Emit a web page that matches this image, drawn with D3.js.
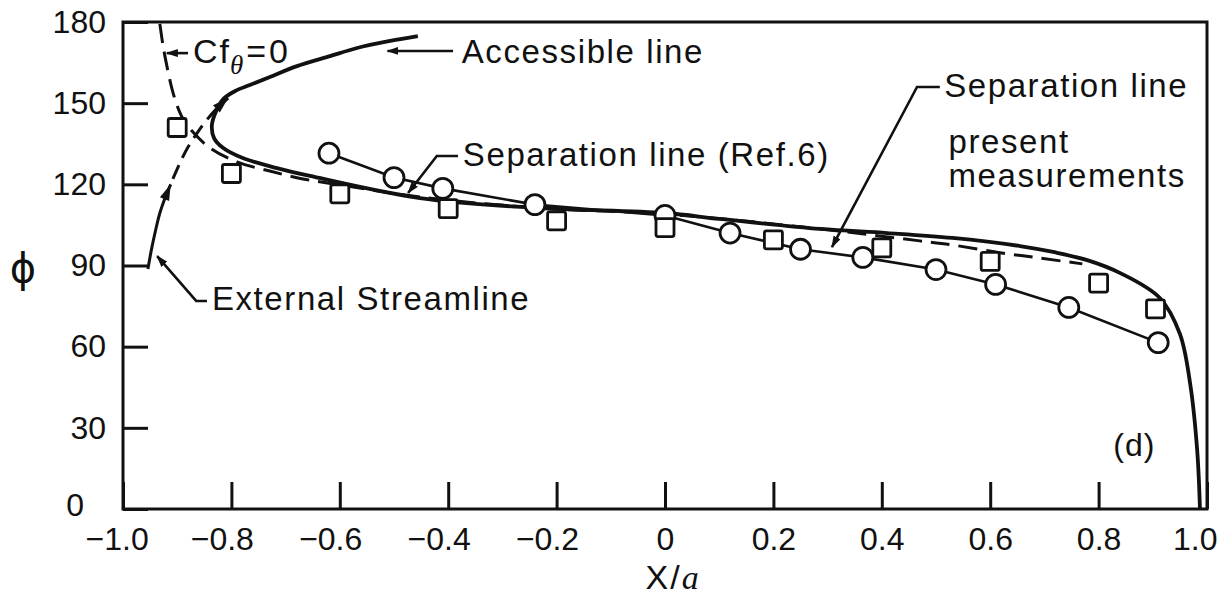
<!DOCTYPE html>
<html>
<head>
<meta charset="utf-8">
<script src="https://cdn.jsdelivr.net/npm/d3@7"></script>
<style>
  html, body { margin: 0; padding: 0; background: #fff; }
  svg { display: block; }
  text { font-family: "Liberation Sans", Arial, sans-serif; fill: #111; }
</style>
</head>
<body>
<svg id="chart" width="1220" height="600"></svg>
<script>
// ---- axis ticks ----
const xTicks = [-1.0, -0.8, -0.6, -0.4, -0.2, 0, 0.2, 0.4, 0.6, 0.8, 1.0];
const xTickLabels = ["\u22121.0", "\u22120.8", "\u22120.6", "\u22120.4", "\u22120.2", "0", "0.2", "0.4", "0.6", "0.8", "1.0"];
const yTicks = [0, 30, 60, 90, 120, 150, 180];
const yTickLabels = ["0", "30", "60", "90", "120", "150", "180"];

// ---- accessible line / separation line (present measurements), solid ----
const solidX = [-0.456, -0.507, -0.568, -0.618, -0.679, -0.729, -0.766, -0.793, -0.815, -0.828,
                -0.836, -0.832, -0.815, -0.779, -0.716, -0.655, -0.452, -0.236, 0.0, 0.101,
                0.286, 0.41, 0.53, 0.655, 0.716, 0.779, 0.84, 0.913, 0.95, 0.969, 0.982, 0.987];
const solidPhi = [174.8, 173.0, 170.4, 167.4, 163.7, 159.7, 156.7, 154.5, 151.5, 147.1,
                  141.9, 137.1, 133.4, 129.7, 126.0, 123.1, 114.9, 111.3, 109.4, 107.2,
                  103.5, 102.0, 100.2, 97.2, 95.0, 92.0, 87.2, 78.0, 64.7, 46.2, 21.4, 0];

// ---- Cf_theta = 0 curve, dashed ----
const cfZeroX = [-0.932, -0.926, -0.919, -0.910, -0.900, -0.889, -0.871, -0.839, -0.790, -0.729,
                 -0.668, -0.600, -0.452, -0.236, 0.0, 0.25, 0.47, 0.53, 0.615, 0.69, 0.77];
const cfZeroPhi = [179.3, 171.1, 163.7, 155.6, 149.0, 144.1, 139.3, 133.4, 128.3, 124.9,
                   122.0, 119.8, 115.3, 111.3, 109.0, 104.3, 99.1, 97.6, 94.8, 92.8, 90.6];

// ---- external streamline (solid start, dashed continuation) ----
const streamSolidX = [-0.954, -0.948, -0.941, -0.932, -0.921, -0.912];
const streamSolidPhi = [88.7, 95.4, 102.0, 109.4, 115.7, 120.0];
const streamDashX = [-0.908, -0.895, -0.880, -0.863, -0.847, -0.828, -0.806];
const streamDashPhi = [122.0, 127.9, 133.8, 139.0, 143.4, 147.8, 151.9];

// ---- separation line (Ref. 6), circles ----
const refX = [-0.62, -0.50, -0.41, -0.24, 0.0, 0.12, 0.25, 0.365, 0.50, 0.61, 0.745, 0.91];
const refPhi = [131.5, 122.5, 118.5, 112.5, 108.5, 102, 96, 93, 88.5, 83, 74.5, 61.5];

// ---- present measurements, squares ----
const sqX = [-0.90, -0.80, -0.60, -0.40, -0.20, 0.0, 0.20, 0.40, 0.60, 0.80, 0.905];
const sqPhi = [141, 124, 116.5, 111, 106.5, 104, 99.5, 96.5, 91.5, 83.5, 74];

// ---- layout ----
const svg = d3.select("#chart");
const plotL = 123, plotR = 1207, plotT = 22, plotB = 509;
const x = d3.scaleLinear().domain([-1, 1]).range([plotL, plotR]);
const y = d3.scaleLinear().domain([0, 180]).range([plotB, plotT]);
const ink = "#111";

const defs = svg.append("defs");
defs.append("marker")
  .attr("id", "head")
  .attr("viewBox", "0 0 12 8")
  .attr("refX", 11).attr("refY", 4)
  .attr("markerWidth", 12).attr("markerHeight", 8)
  .attr("markerUnits", "userSpaceOnUse")
  .attr("orient", "auto")
  .append("path").attr("d", "M0,0 L12,4 L0,8 Z").attr("fill", ink);

// frame
svg.append("rect")
  .attr("x", plotL).attr("y", plotT)
  .attr("width", plotR - plotL).attr("height", plotB - plotT)
  .attr("fill", "none").attr("stroke", ink).attr("stroke-width", 3);

// axes with inward ticks
const xAxis = d3.axisBottom(x)
  .tickValues(xTicks)
  .tickFormat((d, i) => xTickLabels[i])
  .tickSizeInner(-27).tickSizeOuter(0).tickPadding(18);
const gx = svg.append("g").attr("transform", `translate(0,${plotB})`).call(xAxis);
gx.select(".domain").remove();
gx.selectAll("line").attr("stroke", ink).attr("stroke-width", 3);
gx.selectAll("text")
  .style("font-family", '"Liberation Sans", Arial, sans-serif')
  .style("font-size", "32px").attr("fill", ink)
  .attr("dx", (d) => d < 0 ? "-0.3em" : 0);
gx.selectAll("text").filter(d => d === -1).attr("dx", "-0.2em");
// last label sits inside the page edge
gx.selectAll("text").filter(d => d === 1)
  .attr("text-anchor", "end").attr("dx", 10);

const yAxis = d3.axisLeft(y)
  .tickValues(yTicks)
  .tickFormat((d, i) => yTickLabels[i])
  .tickSizeInner(-25).tickSizeOuter(0).tickPadding(17);
const gy = svg.append("g").attr("transform", `translate(${plotL},0)`).call(yAxis);
gy.select(".domain").remove();
gy.selectAll("line").attr("stroke", ink).attr("stroke-width", 3);
gy.selectAll("text")
  .style("font-family", '"Liberation Sans", Arial, sans-serif')
  .style("font-size", "32px").attr("fill", ink);
gy.selectAll("text").filter(d => d === 0).attr("dx", -22).attr("dy", "0.2em");

// axis titles
svg.append("text")
  .attr("x", 23).attr("y", 282)
  .attr("text-anchor", "middle")
  .style("font-size", "40px")
  .style("font-family", '"DejaVu Sans", sans-serif')
  .text("\u03D5");

const xt = svg.append("text")
  .attr("x", x(0.015)).attr("y", 589)
  .attr("text-anchor", "middle")
  .style("font-size", "34px").style("letter-spacing", "2px");
xt.append("tspan").text("X/");
xt.append("tspan").style("font-family", '"Liberation Serif", serif').style("font-style", "italic").text("a");

// curves
const line = d3.line()
  .x(d => x(d[0])).y(d => y(d[1]))
  .curve(d3.curveCatmullRom.alpha(0.5));

svg.append("path").datum(d3.zip(cfZeroX, cfZeroPhi))
  .attr("d", line).attr("fill", "none")
  .attr("stroke", ink).attr("stroke-width", 3)
  .attr("stroke-dasharray", "19,9");

svg.append("path").datum(d3.zip(streamSolidX, streamSolidPhi))
  .attr("d", line).attr("fill", "none")
  .attr("stroke", ink).attr("stroke-width", 3);

svg.append("path").datum(d3.zip(streamDashX, streamDashPhi))
  .attr("d", line).attr("fill", "none")
  .attr("stroke", ink).attr("stroke-width", 3)
  .attr("stroke-dasharray", "15,8");

svg.append("path").datum(d3.zip(solidX, solidPhi))
  .attr("d", line).attr("fill", "none")
  .attr("stroke", ink).attr("stroke-width", 3.8)
  .attr("stroke-linejoin", "round");

// flow-direction arrowheads on the external streamline
function arrowHead(px0, py0, px1, py1, len, half) {
  const a = Math.atan2(py1 - py0, px1 - px0);
  const bx = px1 - len * Math.cos(a), by = py1 - len * Math.sin(a);
  const nx = -Math.sin(a) * half, ny = Math.cos(a) * half;
  svg.append("path")
    .attr("d", `M${px1},${py1} L${bx + nx},${by + ny} L${bx - nx},${by - ny} Z`)
    .attr("fill", ink);
}
{
  const n = streamSolidX.length;
  arrowHead(x(streamSolidX[n - 2]), y(streamSolidPhi[n - 2]), x(streamSolidX[n - 1]), y(streamSolidPhi[n - 1]), 16, 5);
  const m = streamDashX.length;
  arrowHead(x(streamDashX[m - 2]), y(streamDashPhi[m - 2]), x(streamDashX[m - 1]), y(streamDashPhi[m - 1]), 16, 5);
}

// Ref. 6 separation line with circles
svg.append("path").datum(d3.zip(refX, refPhi))
  .attr("d", d3.line().x(d => x(d[0])).y(d => y(d[1])))
  .attr("fill", "none").attr("stroke", ink).attr("stroke-width", 2.6);

svg.append("g").selectAll("circle")
  .data(d3.zip(refX, refPhi)).join("circle")
  .attr("cx", d => x(d[0])).attr("cy", d => y(d[1])).attr("r", 10)
  .attr("fill", "#fff").attr("stroke", ink).attr("stroke-width", 2.8);

// measured squares
const sq = 18;
svg.append("g").selectAll("rect")
  .data(d3.zip(sqX, sqPhi)).join("rect")
  .attr("x", d => x(d[0]) - sq / 2).attr("y", d => y(d[1]) - sq / 2)
  .attr("width", sq).attr("height", sq).attr("rx", 2)
  .attr("fill", "#fff").attr("stroke", ink).attr("stroke-width", 2.8);

// ---- annotations ----
function leader(pts) {
  svg.append("path")
    .attr("d", d3.line()(pts.map(p => [x(p[0]), y(p[1])])))
    .attr("fill", "none").attr("stroke", ink).attr("stroke-width", 2.6)
    .attr("marker-end", "url(#head)");
}
function label(xv, phi, str, size, spacing) {
  return svg.append("text")
    .attr("x", x(xv)).attr("y", y(phi))
    .style("font-size", (size || 33) + "px")
    .style("letter-spacing", (spacing == null ? 1.6 : spacing) + "px")
    .text(str);
}

// Cf_theta = 0
leader([[-0.880, 168.5], [-0.919, 168.5]]);
{
  const t = svg.append("text").attr("x", x(-0.871)).attr("y", y(164.8))
    .style("font-size", "34px").style("letter-spacing", "1px");
  t.append("tspan").text("C");
  t.append("tspan").attr("dx", 1).text("f");
  t.append("tspan").attr("dy", 11).style("font-size", "27px").style("font-style", "italic")
    .style("font-family", '"Liberation Serif", serif').text("\u03B8");
  t.append("tspan").attr("dy", -11).attr("dx", 2).text("=");
  t.append("tspan").attr("dx", 2).text("0");
}

// Accessible line
leader([[-0.391, 169.3], [-0.512, 169.3]]);
label(-0.375, 164.8, "Accessible line");

// Separation line (Ref.6)
leader([[-0.382, 130.5], [-0.421, 130.5], [-0.474, 116.8]]);
label(-0.373, 126.8, "Separation  line (Ref.6)");

// Separation line, present measurements
leader([[0.507, 156.0], [0.465, 156.0], [0.308, 96.8]]);
label(0.515, 152.3, "Separation line");
label(0.523, 131.5, "present");
label(0.523, 119.0, "measurements");

// External Streamline
leader([[-0.845, 76.9], [-0.865, 76.9], [-0.937, 93.5]]);
label(-0.836, 73.6, "External  Streamline");

// panel tag
label(0.827, 19.6, "(d)", 32, 1);
</script>
</body>
</html>
